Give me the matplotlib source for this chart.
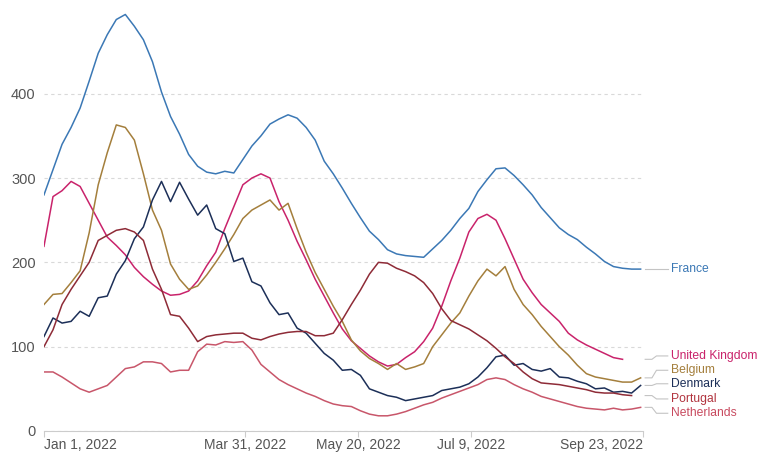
import numpy as np
import matplotlib
matplotlib.use("Agg")
import matplotlib.pyplot as plt

plt.rcParams['font.family'] = ['Liberation Sans', 'DejaVu Sans']

# days since Jan 1, 2022 (one reading every 4 days)
days = np.arange(0, 265, 4)

france = [280, 310, 340, 360, 383, 415, 448, 470, 488, 494, 480, 464, 438, 402, 373, 352,
          328, 314, 307, 305, 308, 306, 322, 338, 350, 364, 370, 375, 371, 360, 345, 320,
          305, 288, 270, 253, 237, 227, 215, 210, 208, 207, 206, 216, 226, 238, 252, 264,
          284, 298, 311, 312, 303, 292, 280, 265, 253, 241, 233, 227, 218, 210, 201, 195,
          193, 192, 192]
uk = [219, 278, 285, 296, 290, 270, 250, 230, 220, 209, 194, 183, 174, 166, 161, 162,
      166, 178, 196, 212, 240, 266, 292, 300, 305, 300, 272, 250, 225, 203, 180, 160,
      140, 121, 107, 98, 89, 82, 77, 79, 87, 94, 106, 122, 148, 178, 205, 236,
      252, 257, 250, 228, 204, 180, 164, 150, 140, 130, 116, 108, 102, 97, 92, 87,
      85, np.nan, np.nan]
belgium = [150, 162, 163, 176, 190, 235, 292, 330, 363, 360, 345, 305, 262, 238, 198, 180,
           168, 172, 185, 200, 216, 233, 252, 262, 268, 274, 262, 270, 240, 212, 188, 168,
           148, 130, 108, 95, 86, 80, 73, 80, 73, 76, 80, 100, 114, 128, 140, 160,
           178, 192, 184, 195, 168, 150, 138, 124, 112, 100, 90, 78, 68, 64, 62, 60,
           58, 58, 63]
denmark = [112, 134, 128, 130, 142, 136, 158, 160, 186, 202, 228, 242, 274, 296, 272, 295,
           275, 256, 268, 240, 234, 201, 205, 177, 172, 152, 138, 140, 122, 116, 104, 92,
           84, 72, 73, 66, 50, 46, 42, 40, 36, 38, 40, 42, 48, 50, 52, 56,
           64, 75, 88, 90, 78, 80, 73, 71, 74, 64, 63, 59, 56, 50, 51, 46,
           47, 45, 54]
portugal = [100, 120, 150, 168, 184, 200, 226, 232, 238, 240, 236, 226, 192, 168, 138, 136,
            122, 106, 112, 114, 115, 116, 116, 110, 108, 112, 115, 117, 118, 118, 113, 113,
            116, 132, 150, 167, 186, 200, 199, 193, 189, 184, 176, 163, 145, 131, 126, 121,
            114, 107, 98, 88, 80, 70, 62, 57, 56, 55, 53, 51, 49, 46, 45, 45,
            43, 42, np.nan]
netherlands = [70, 70, 64, 57, 50, 46, 50, 54, 64, 74, 76, 82, 82, 80, 70, 72,
               72, 94, 103, 102, 106, 105, 106, 96, 79, 70, 61, 55, 50, 45, 41, 36,
               32, 30, 29, 24, 20, 18, 18, 20, 23, 27, 31, 34, 39, 43, 47, 51,
               55, 61, 63, 61, 55, 50, 46, 41, 38, 35, 32, 29, 27, 26, 25, 27,
               25, 26, 28]

countries = ["France", "United Kingdom", "Belgium", "Denmark", "Portugal", "Netherlands"]
series = [france, uk, belgium, denmark, portugal, netherlands]
colors = ["#3b78b5", "#c9236b", "#a47f3c", "#1c2f58", "#8e2b37", "#c8566a"]
label_colors = ["#3b78b5", "#c9236b", "#a47f3c", "#1c2f58", "#b1343f", "#c84a5f"]
label_y = [192, 89, 72, 56, 38, 21]

tick_days = [0, 89, 139, 189, 265]
tick_labels = ["Jan 1, 2022", "Mar 31, 2022", "May 20, 2022", "Jul 9, 2022", "Sep 23, 2022"]

fig = plt.figure(figsize=(7.62, 4.54), dpi=100)
ax = fig.add_axes([0.0577, 0.0507, 0.786, 0.949])

for vals, c in zip(series, colors):
    ax.plot(days, vals, color=c, lw=1.1)

ax.set_xlim(0, 265)
ax.set_ylim(0, 511)
ax.set_yticks([0, 100, 200, 300, 400])
ax.yaxis.grid(True, color="#d9d9d9", ls=(0, (3, 3)), lw=0.8)
ax.set_axisbelow(True)
for s in ["top", "right", "left"]:
    ax.spines[s].set_visible(False)
ax.spines["bottom"].set_color("#cccccc")
ax.tick_params(axis="y", length=0, pad=6, labelsize=10.5, labelcolor="#555555")
ax.tick_params(axis="x", length=4, color="#cccccc", labelsize=10, labelcolor="#555555", pad=1)
ax.set_xticks(tick_days)
ax.set_xticklabels(tick_labels)
xl = ax.get_xticklabels()
xl[0].set_ha("left")
xl[-1].set_ha("right")

# end labels with little elbow connectors
for vals, name, lc, ly in zip(series, countries, label_colors, label_y):
    last = [v for v in vals if not np.isnan(v)][-1]
    ax.plot([266, 269, 271, 276], [last, last, ly, ly], color="#c4c4c4", lw=0.8, clip_on=False)
    ax.text(277.6, ly, name, color=lc, fontsize=8.7, va="center", ha="left")

fig.savefig("out.png", dpi=100)
